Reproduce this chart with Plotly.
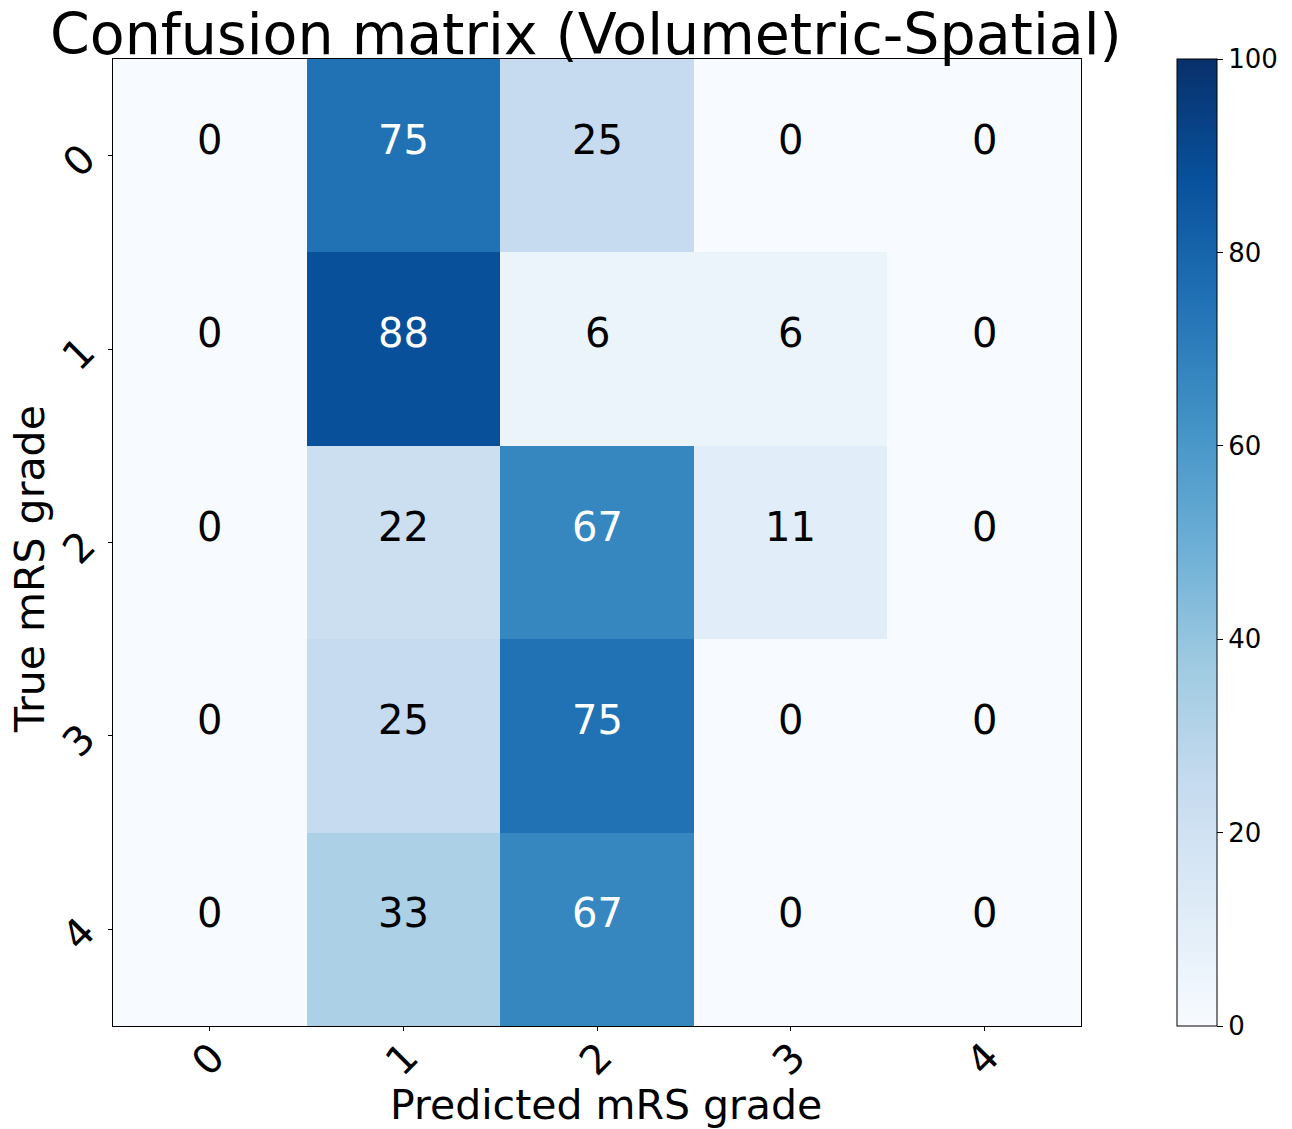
import plotly.graph_objects as go
import plotly.colors as pc

pred_labels = ["0", "1", "2", "3", "4"]
true_labels = ["0", "1", "2", "3", "4"]
values = [
    [0, 75, 25, 0, 0],
    [0, 88, 6, 6, 0],
    [0, 22, 67, 11, 0],
    [0, 25, 75, 0, 0],
    [0, 33, 67, 0, 0],
]
cbar_ticks = [0, 20, 40, 60, 80, 100]

W, H = 1292, 1129
L, R, T, B = 113, 1081, 59, 1026
pw, ph = R - L, B - T
FONT = "DejaVu Sans"

fig = go.Figure()
fig.add_trace(go.Heatmap(
    z=values, x=list(range(5)), y=list(range(5)),
    colorscale=pc.sequential.Blues, zmin=0, zmax=100,
    showscale=True,
    colorbar=dict(
        x=(1177 - L) / pw, xanchor="left", xref="paper",
        y=0.5, yanchor="middle", len=1.0, lenmode="fraction",
        thickness=40, thicknessmode="pixels",
        outlinecolor="black", outlinewidth=1,
        tickvals=cbar_ticks,
        ticks="outside", ticklen=6, tickcolor="black",
        tickfont=dict(family=FONT, size=26, color="black"),
        xpad=0, ypad=0,
    ),
    hoverinfo="skip",
))

for i, row in enumerate(values):
    for j, v in enumerate(row):
        fig.add_annotation(
            x=j, y=i, text=str(v), showarrow=False,
            font=dict(family=FONT, size=40, color="white" if v > 50 else "black"),
            yshift=16,
        )

# rotated tick labels
for j, lab in enumerate(pred_labels):
    fig.add_annotation(x=j, y=(B - 1059) / ph, xref="x", yref="paper", text=lab,
                       textangle=-45, showarrow=False, xanchor="center", yanchor="middle",
                       xshift=-2, font=dict(family=FONT, size=40, color="black"))
for i, lab in enumerate(true_labels):
    fig.add_annotation(x=(78 - L) / pw, y=i, xref="paper", yref="y", text=lab,
                       textangle=-45, showarrow=False, xanchor="center", yanchor="middle",
                       yshift=-5, font=dict(family=FONT, size=40, color="black"))

fig.update_xaxes(
    tickvals=list(range(5)), showticklabels=False,
    range=[-0.5, 4.5], showgrid=False, zeroline=False,
    showline=True, linecolor="black", linewidth=1, mirror=True,
    ticks="outside", ticklen=4, tickcolor="black",
)
fig.update_yaxes(
    tickvals=list(range(5)), showticklabels=False,
    range=[4.5, -0.5], showgrid=False, zeroline=False,
    showline=True, linecolor="black", linewidth=1, mirror=True,
    ticks="outside", ticklen=4, tickcolor="black",
)

fig.add_annotation(text="Confusion matrix (Volumetric-Spatial)", xref="paper", yref="paper",
                   x=(586 - L) / pw, y=(B - 34) / ph, xanchor="center", yanchor="middle",
                   showarrow=False, font=dict(family=FONT, size=57, color="black"))
fig.add_annotation(text="Predicted mRS grade", xref="paper", yref="paper",
                   x=(606 - L) / pw, y=(B - 1105) / ph, xanchor="center", yanchor="middle",
                   showarrow=False, font=dict(family=FONT, size=41, color="black"))
fig.add_annotation(text="True mRS grade", xref="paper", yref="paper", textangle=-90,
                   x=(30 - L) / pw, y=(B - 569) / ph, xanchor="center", yanchor="middle",
                   showarrow=False, font=dict(family=FONT, size=41, color="black"))

fig.update_layout(
    width=W, height=H, autosize=False,
    margin=dict(l=L, r=W - R, t=T, b=H - B, pad=0),
    paper_bgcolor="white", plot_bgcolor="white",
    showlegend=False,
)
fig.write_html("out.html")
